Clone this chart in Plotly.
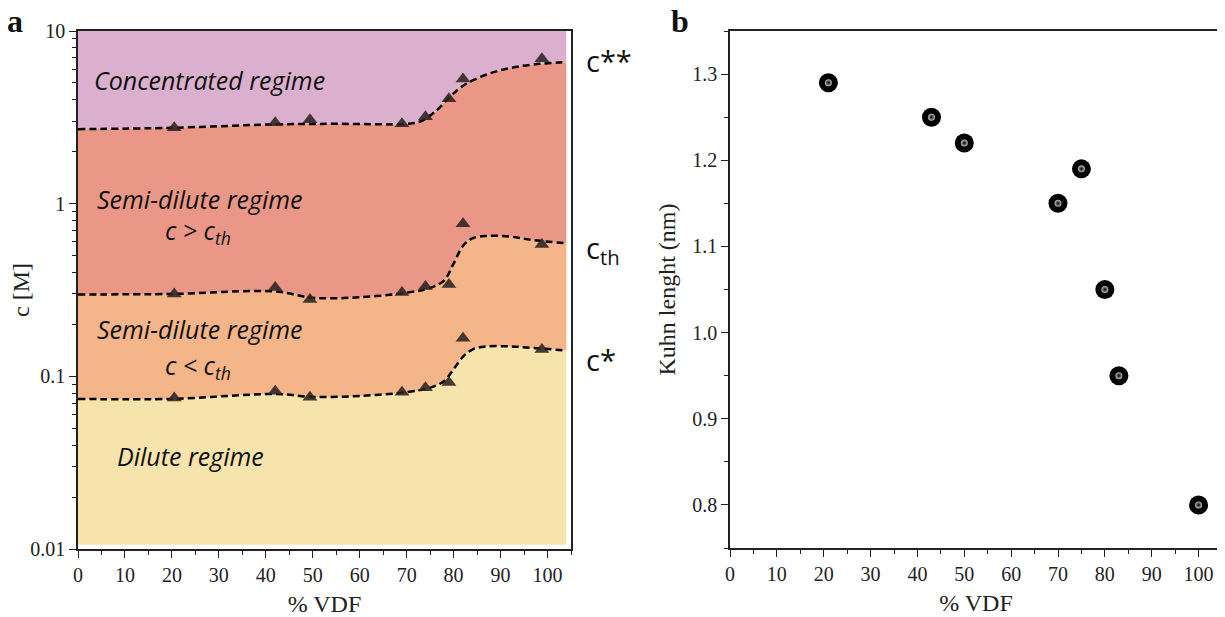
import plotly.graph_objects as go

# ---------------- Panel a data ----------------
vdf_tri = [20.5, 42, 49.4, 69, 74, 79, 82, 98.8]
c_star_pts = [0.075, 0.082, 0.0757, 0.081, 0.086, 0.092, 0.166, 0.143]
c_th_pts = [0.30, 0.327, 0.279, 0.306, 0.331, 0.34, 0.766, 0.58]
c_ss_pts = [2.75, 2.94, 3.06, 2.90, 3.19, 4.05, 5.28, 6.9]

# boundary (dashed guide) curves
x_cstar = [0, 20, 42, 50, 60, 70, 75, 78, 80, 82, 84, 87, 92, 97, 104]
y_cstar = [0.074, 0.074, 0.079, 0.076, 0.077, 0.081, 0.086, 0.094, 0.11, 0.13, 0.143, 0.149, 0.149, 0.146, 0.141]
x_cth = [0, 20, 42, 50, 60, 70, 75, 78, 80, 82, 84, 87, 92, 97, 104]
y_cth = [0.298, 0.30, 0.31, 0.285, 0.287, 0.305, 0.325, 0.36, 0.45, 0.57, 0.63, 0.65, 0.645, 0.615, 0.59]
x_css = [0, 20, 42, 55, 70, 73, 76, 79, 81, 83, 87, 92, 97, 104]
y_css = [2.70, 2.75, 2.88, 2.90, 2.90, 3.0, 3.4, 4.1, 4.6, 5.0, 5.6, 6.1, 6.4, 6.6]
x_edges = [0, 104]
y_floor = [0.0106, 0.0106]
y_ceiling = [10, 10]

# ---------------- Panel b data ----------------
vdf_b = [21, 43, 50, 70, 75, 80, 83, 100]
kuhn = [1.29, 1.25, 1.22, 1.15, 1.19, 1.05, 0.95, 0.80]

col_dilute = "rgb(247,228,172)"
col_semi_lo = "rgb(244,181,136)"
col_semi_hi = "rgb(235,151,135)"
col_conc = "rgb(219,176,206)"

# page body has an 8px margin -> figure is 8px smaller and all positions offset by 8px
OFF = 8
W = 1225.0 - OFF
H = 617.0 - OFF
def px(x):
    return (x - OFF) / W
def py(y):
    return 1 - (y - OFF) / H

fig = go.Figure()
# fills
fig.add_trace(go.Scatter(x=x_edges, y=y_floor, mode="lines", line=dict(width=0),
                         showlegend=False, hoverinfo="skip", xaxis="x", yaxis="y"))
fig.add_trace(go.Scatter(x=x_cstar, y=y_cstar, mode="lines", line=dict(width=0, shape="spline"),
                         fill="tonexty", fillcolor=col_dilute, showlegend=False, hoverinfo="skip"))
fig.add_trace(go.Scatter(x=x_cth, y=y_cth, mode="lines", line=dict(width=0, shape="spline"),
                         fill="tonexty", fillcolor=col_semi_lo, showlegend=False, hoverinfo="skip"))
fig.add_trace(go.Scatter(x=x_css, y=y_css, mode="lines", line=dict(width=0, shape="spline"),
                         fill="tonexty", fillcolor=col_semi_hi, showlegend=False, hoverinfo="skip"))
fig.add_trace(go.Scatter(x=x_edges, y=y_ceiling, mode="lines", line=dict(width=0),
                         fill="tonexty", fillcolor=col_conc, showlegend=False, hoverinfo="skip"))
# dashed boundaries
for xs, ys in [(x_cstar, y_cstar), (x_cth, y_cth), (x_css, y_css)]:
    fig.add_trace(go.Scatter(x=xs, y=ys, mode="lines",
                             line=dict(color="black", width=2.5, dash="7px,4px", shape="spline"),
                             showlegend=False, hoverinfo="skip"))
# triangles
for ys in [c_star_pts, c_th_pts, c_ss_pts]:
    fig.add_trace(go.Scatter(x=vdf_tri, y=ys, mode="markers",
                             marker=dict(symbol="triangle-up", size=13, color="rgba(45,35,32,0.88)"),
                             showlegend=False))

# panel b spheres
fig.add_trace(go.Scatter(x=vdf_b, y=kuhn, mode="markers", xaxis="x2", yaxis="y2",
                         marker=dict(size=19, color="black", line=dict(width=0)),
                         showlegend=False))
fig.add_trace(go.Scatter(x=vdf_b, y=kuhn, mode="markers", xaxis="x2", yaxis="y2",
                         marker=dict(size=7, color="#bdbdbd",
                                     gradient=dict(type="radial", color="black"),
                                     line=dict(width=0)),
                         showlegend=False, hoverinfo="skip"))

tickfont = dict(family="Liberation Serif", size=20, color="#222")
titlefont = dict(family="Liberation Serif", size=24, color="#222")
axcommon = dict(showline=True, linecolor="#222", linewidth=1.5, mirror=True,
                ticks="outside", ticklen=7, tickwidth=1.3, tickcolor="#222",
                showgrid=False, zeroline=False, tickfont=tickfont, automargin=False)

fig.update_layout(
    width=int(W), height=int(H),
    margin=dict(l=0, r=0, t=0, b=0),
    paper_bgcolor="white", plot_bgcolor="white",
    xaxis=dict(domain=[px(78), px(571)], range=[0, 105], dtick=10, anchor="y",
               title=dict(text="% VDF", font=titlefont, standoff=10),
               minor=dict(dtick=5, ticks="outside", ticklen=4, tickcolor="#222"),
               **axcommon),
    yaxis=dict(domain=[py(549), py(31)], type="log", range=[-2, 1], anchor="x",
               tickvals=[0.01, 0.1, 1, 10], ticktext=["0.01", "0.1", "1", "10"],
               title=dict(text="c [M]", font=titlefont, standoff=5),
               minor=dict(tickvals=[m * 10 ** e for e in (-2, -1, 0) for m in range(2, 10)],
                          ticks="outside", ticklen=4, tickcolor="#222"),
               **axcommon),
    xaxis2=dict(domain=[px(730), px(1222)], range=[0, 105], dtick=10, anchor="y2",
                title=dict(text="% VDF", font=titlefont, standoff=10),
                minor=dict(dtick=5, ticks="outside", ticklen=4, tickcolor="#222"),
                **axcommon),
    yaxis2=dict(domain=[py(548), py(31)], range=[0.75, 1.35], dtick=0.1, tickformat=".1f",
                anchor="x2",
                title=dict(text="Kuhn lenght (nm)", font=titlefont, standoff=10),
                minor=dict(dtick=0.05, ticks="outside", ticklen=4, tickcolor="#222"),
                **axcommon),
)

regfont = dict(family="Open Sans", size=25, color="#111")
def reg(text, x, ylog):
    fig.add_annotation(text=text, x=x, y=ylog, xref="x", yref="y", showarrow=False,
                       font=regfont, xanchor="center", yanchor="middle")

reg("<i>Concentrated regime</i>", 28.1, 0.717)
reg("<i>Semi-dilute regime</i>", 25.8, 0.029)
reg("<i>c &gt; c<sub>th</sub></i>", 25.6, -0.160)
reg("<i>Semi-dilute regime</i>", 25.8, -0.728)
reg("<i>c &lt; c<sub>th</sub></i>", 25.6, -0.945)
reg("<i>Dilute regime</i>", 23.9, -1.462)

cfont = dict(family="Open Sans", size=29, color="#111")
for txt, ylog in [("c**", 0.832), ("c<sub>th</sub>", -0.265), ("c*", -0.90)]:
    fig.add_annotation(text=txt, x=px(584), y=ylog, xref="paper", yref="y", showarrow=False,
                       font=cfont, xanchor="left", yanchor="middle")

lblfont = dict(family="Liberation Serif", size=32, color="#111")
fig.add_annotation(text="<b>a</b>", x=px(6), y=py(21), xref="paper", yref="paper",
                   showarrow=False, font=lblfont, xanchor="left", yanchor="middle", borderpad=0)
fig.add_annotation(text="<b>b</b>", x=px(670), y=py(21), xref="paper", yref="paper",
                   showarrow=False, font=lblfont, xanchor="left", yanchor="middle", borderpad=0)

fig.write_html("out.html")
